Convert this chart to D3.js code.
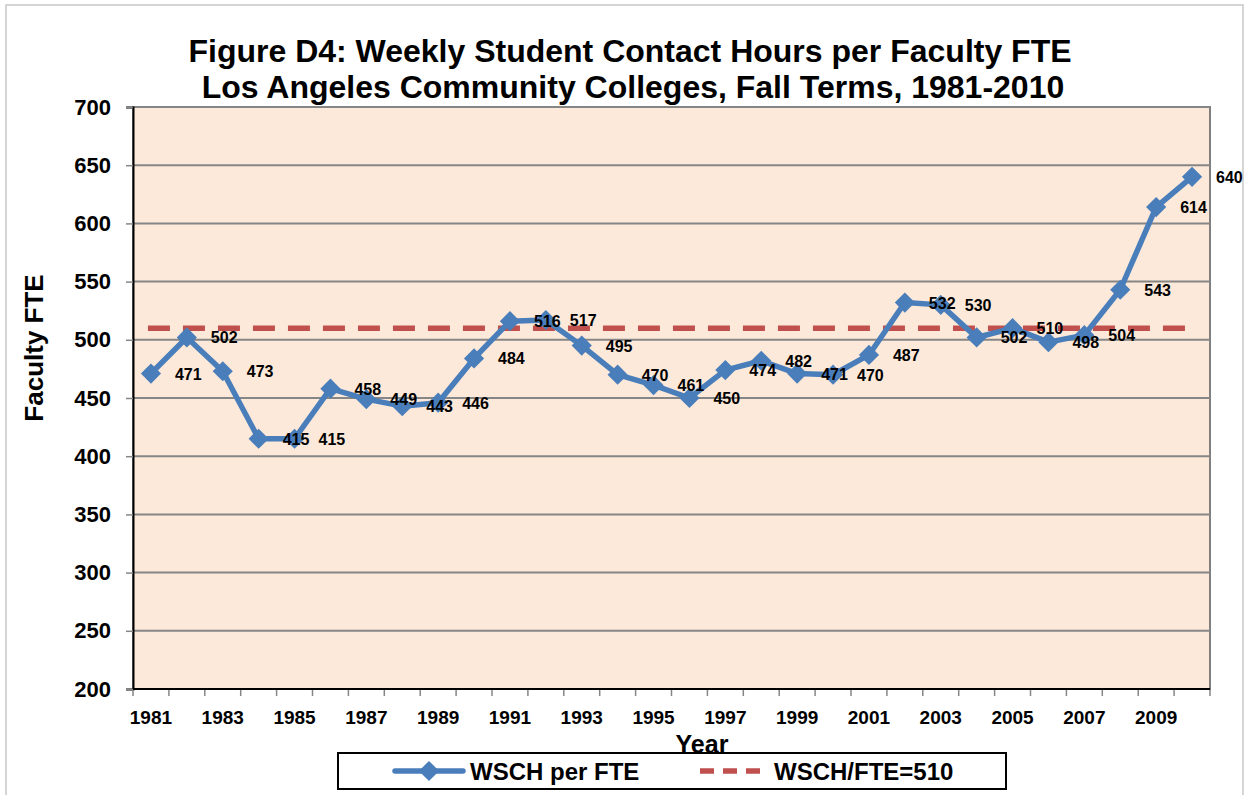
<!DOCTYPE html>
<html>
<head>
<meta charset="utf-8">
<script src="https://cdn.jsdelivr.net/npm/d3@7"></script>
<style>
body { margin: 0; background: #fff; }
text { font-family: Arial, "Liberation Sans", sans-serif; font-weight: bold; }
</style>
</head>
<body>
<script>
var width = 1245,
    height = 795

var years = [1981,1982,1983,1984,1985,1986,1987,1988,1989,1990,
             1991,1992,1993,1994,1995,1996,1997,1998,1999,2000,
             2001,2002,2003,2004,2005,2006,2007,2008,2009,2010]
var wsch = [471,502,473,415,415,458,449,443,446,484,
            516,517,495,470,461,450,474,482,471,470,
            487,532,530,502,510,498,504,543,614,640]
var target = 510
var yTicks = [200,250,300,350,400,450,500,550,600,650,700]
var xTickLabels = [1981,1983,1985,1987,1989,1991,1993,1995,1997,1999,2001,2003,2005,2007,2009]

var blue = "#4a7ebb", red = "#c0504d"

var plot = {left: 133, right: 1210, top: 107, bottom: 689}

var svg = d3.select("body")
    .append("svg")
        .attr("width", width)
        .attr("height", height)

// outer chart border
svg.append("rect")
    .attr("x", 6).attr("y", 5)
    .attr("width", 1237).attr("height", 800)
    .attr("fill", "#fff")
    .attr("stroke", "#c8c8c8")
    .attr("stroke-width", 1.5)

var x = d3.scaleBand()
    .domain(years)
    .range([plot.left, plot.right])

var y = d3.scaleLinear()
    .domain([200, 700])
    .range([plot.bottom, plot.top])

// plot background
svg.append("rect")
    .attr("x", plot.left).attr("y", plot.top)
    .attr("width", plot.right - plot.left).attr("height", plot.bottom - plot.top)
    .attr("fill", "#fde9d9")
    .attr("stroke", "#808080")
    .attr("stroke-width", 2)

// gridlines
svg.selectAll("grid")
    .data(yTicks.slice(1))
    .enter()
    .append("line")
        .attr("x1", plot.left).attr("x2", plot.right)
        .attr("y1", d => y(d)).attr("y2", d => y(d))
        .attr("stroke", "#868686")
        .attr("stroke-width", 2)

// y axis
var yAxis = svg.append("g")
    .attr("transform", "translate(" + plot.left + ",0)")
    .call(d3.axisLeft(y).tickValues(yTicks).tickSize(7).tickPadding(15))
yAxis.select(".domain").attr("stroke", "#000").attr("stroke-width", 2)
yAxis.selectAll(".tick line").attr("stroke", "#868686").attr("stroke-width", 1.5)
yAxis.selectAll(".tick text")
    .attr("fill", "#000")
    .style("font-size", "22px")
    .style("font-family", "Arial, 'Liberation Sans', sans-serif")
    .style("font-weight", "bold")

// x axis: ticks between categories
var xg = svg.append("g")
svg.append("line")
    .attr("x1", plot.left).attr("x2", plot.right)
    .attr("y1", plot.bottom).attr("y2", plot.bottom)
    .attr("stroke", "#000").attr("stroke-width", 2)
xg.selectAll("tick")
    .data(years.concat([null]))
    .enter()
    .append("line")
        .attr("x1", (d, i) => plot.left + i * x.step())
        .attr("x2", (d, i) => plot.left + i * x.step())
        .attr("y1", plot.bottom).attr("y2", plot.bottom + 7)
        .attr("stroke", "#868686").attr("stroke-width", 1.5)
xg.selectAll("lbl")
    .data(xTickLabels)
    .enter()
    .append("text")
        .attr("x", d => x(d) + x.bandwidth() / 2)
        .attr("y", 724)
        .attr("text-anchor", "middle")
        .style("font-size", "19px")
        .text(d => d)

// reference line
svg.append("line")
    .attr("x1", x(years[0]) + x.bandwidth() / 2 - 3)
    .attr("x2", x(years[years.length - 1]) + x.bandwidth() / 2)
    .attr("y1", y(target)).attr("y2", y(target))
    .attr("stroke", red)
    .attr("stroke-width", 5.5)
    .attr("stroke-dasharray", "22,13")

// series line
var line = d3.line()
    .x((d, i) => x(years[i]) + x.bandwidth() / 2)
    .y(d => y(d))

svg.append("path")
    .datum(wsch)
    .attr("d", line)
    .attr("fill", "none")
    .attr("stroke", blue)
    .attr("stroke-width", 5.5)
    .attr("stroke-linejoin", "round")

var diamond = d3.symbol().type(d3.symbolDiamond2).size(260)

svg.selectAll("marker")
    .data(wsch)
    .enter()
    .append("path")
        .attr("d", diamond)
        .attr("transform", (d, i) => "translate(" + (x(years[i]) + x.bandwidth() / 2) + "," + y(d) + ")")
        .attr("fill", blue)

// data labels to the right of each point
svg.selectAll("labels")
    .data(wsch)
    .enter()
    .append("text")
        .attr("x", (d, i) => x(years[i]) + x.bandwidth() / 2 + 24)
        .attr("y", d => y(d) + 6)
        .style("font-size", "16px")
        .text(d => d)

// title
svg.append("text")
    .attr("x", 630).attr("y", 62)
    .attr("text-anchor", "middle")
    .style("font-size", "32px")
    .text("Figure D4: Weekly Student Contact Hours per Faculty FTE")
svg.append("text")
    .attr("x", 633).attr("y", 98)
    .attr("text-anchor", "middle")
    .style("font-size", "32px")
    .text("Los Angeles Community Colleges, Fall Terms, 1981-2010")

// axis titles
svg.append("text")
    .attr("transform", "translate(43,348) rotate(-90)")
    .attr("text-anchor", "middle")
    .style("font-size", "26px")
    .text("Faculty FTE")
svg.append("text")
    .attr("x", 702).attr("y", 753)
    .attr("text-anchor", "middle")
    .style("font-size", "25px")
    .text("Year")

// legend
var lg = svg.append("g")
lg.append("rect")
    .attr("x", 338).attr("y", 753)
    .attr("width", 668).attr("height", 36)
    .attr("fill", "#fff")
    .attr("stroke", "#000")
    .attr("stroke-width", 2)
lg.append("line")
    .attr("x1", 395).attr("x2", 463)
    .attr("y1", 771).attr("y2", 771)
    .attr("stroke", blue).attr("stroke-width", 5.5).attr("stroke-linecap", "round")
lg.append("path")
    .attr("d", diamond)
    .attr("transform", "translate(429,771)")
    .attr("fill", blue)
lg.append("text")
    .attr("x", 470).attr("y", 780)
    .style("font-size", "24px")
    .text("WSCH per FTE")
lg.append("line")
    .attr("x1", 700).attr("x2", 764)
    .attr("y1", 771).attr("y2", 771)
    .attr("stroke", red).attr("stroke-width", 5.5)
    .attr("stroke-dasharray", "14,9")
lg.append("text")
    .attr("x", 774).attr("y", 780)
    .style("font-size", "24px")
    .text("WSCH/FTE=510")
</script>
</body>
</html>
